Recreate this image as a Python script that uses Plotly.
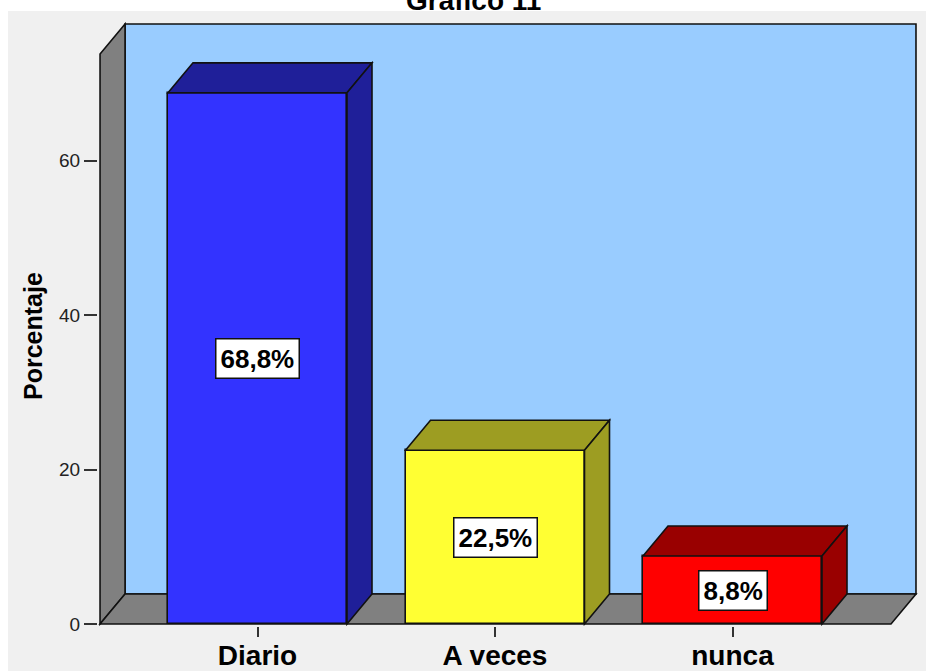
import plotly.graph_objects as go

# Survey answers and their share of respondents (%)
categorias = ["Diario", "A veces", "nunca"]
porcentajes = [68.8, 22.5, 8.8]
y_ticks = [0, 20, 40, 60]

# Face colours: front face, then shaded top/side face
color_frente = ["#3333ff", "#ffff33", "#ff0000"]
color_lado = ["#1f1f99", "#9d9d22", "#990000"]

FONT = "Arial, Liberation Sans, sans-serif"

# Geometry of the pseudo-3D box (in axis units)
px_per_cat = 237.5          # pixels between category centres
px_per_unit = 7.72          # pixels per percentage point
DX = 25 / px_per_cat        # depth offset along x
DY = 30 / px_per_unit       # depth offset along y
BAR_W = 179 / px_per_cat

X_MIN, X_MAX = -0.663, 2.7726   # side wall front edge / back wall right edge
Y_TOP = 77.72                    # top of the back wall

# plot area slightly larger than the box so edge lines are not clipped
x_range = [(98 - 257.5) / px_per_cat, (918 - 257.5) / px_per_cat]
y_range = [-2 / px_per_unit, 602 / px_per_unit]

OUTLINE = dict(color="#111111", width=1.6)


def poly(pts):
    return "M " + " L ".join(f"{x},{y}" for x, y in pts) + " Z"


shapes = []
# white margin strips around the grey panel
shapes.append(dict(type="rect", xref="paper", yref="paper", x0=-0.2, x1=(8 - 98) / 820,
                   y0=-0.2, y1=1.2, fillcolor="white", line=dict(width=0), layer="below"))
shapes.append(dict(type="rect", xref="paper", yref="paper", x0=-0.2, x1=1.2,
                   y0=(626 - 11) / 604, y1=1.2, fillcolor="white", line=dict(width=0), layer="below"))
# back wall
shapes.append(dict(type="path", xref="x", yref="y", layer="below",
                   path=poly([(X_MIN + DX, DY), (X_MAX, DY), (X_MAX, Y_TOP), (X_MIN + DX, Y_TOP)]),
                   fillcolor="#99ccff", line=OUTLINE))
# side wall
shapes.append(dict(type="path", xref="x", yref="y", layer="below",
                   path=poly([(X_MIN, 0), (X_MIN, Y_TOP - DY), (X_MIN + DX, Y_TOP), (X_MIN + DX, DY)]),
                   fillcolor="#808080", line=OUTLINE))
# floor
shapes.append(dict(type="path", xref="x", yref="y", layer="below",
                   path=poly([(X_MIN, 0), (X_MAX - DX, 0), (X_MAX, DY), (X_MIN + DX, DY)]),
                   fillcolor="#808080", line=OUTLINE))

# top and side faces of each bar
for i, v in enumerate(porcentajes):
    x0, x1 = i - BAR_W / 2, i + BAR_W / 2
    shapes.append(dict(type="path", xref="x", yref="y", layer="above",
                       path=poly([(x0, v), (x0 + DX, v + DY), (x1 + DX, v + DY), (x1, v)]),
                       fillcolor=color_lado[i], line=OUTLINE))
    shapes.append(dict(type="path", xref="x", yref="y", layer="above",
                       path=poly([(x1, 0), (x1, v), (x1 + DX, v + DY), (x1 + DX, DY)]),
                       fillcolor=color_lado[i], line=OUTLINE))

fig = go.Figure()
fig.add_trace(go.Bar(
    x=list(range(len(categorias))), y=porcentajes, width=BAR_W,
    marker=dict(color=color_frente, line=OUTLINE),
    hoverinfo="skip", showlegend=False,
))

annotations = []
for i, v in enumerate(porcentajes):
    annotations.append(dict(
        x=i, y=v / 2, xref="x", yref="y", showarrow=False,
        text=f"{v:.1f}%".replace(".", ","),
        font=dict(family=FONT, size=26, color="black", weight="bold"),
        bgcolor="white", bordercolor="#111111", borderwidth=1.5, borderpad=4,
    ))
annotations.append(dict(
    x=(33 - 98) / 820, y=(626 - 336) / 604, xref="paper", yref="paper", showarrow=False,
    text="Porcentaje", textangle=-90, xanchor="center", yanchor="middle",
    font=dict(family=FONT, size=25, color="black", weight="bold"),
))
annotations.append(dict(
    x=(473 - 98) / 820, y=(626 - 18) / 604, xref="paper", yref="paper", showarrow=False,
    text="Gráfico 11", xanchor="center", yanchor="bottom",
    font=dict(family=FONT, size=28, color="black", weight="bold"),
))

fig.update_layout(
    width=926, height=671,
    margin=dict(l=98, r=8, t=22, b=45),
    paper_bgcolor="#f0f0f0", plot_bgcolor="rgba(0,0,0,0)",
    shapes=shapes, annotations=annotations,
    bargap=0,
)
fig.update_xaxes(
    range=x_range, tickmode="array", tickvals=list(range(len(categorias))), ticktext=categorias,
    ticks="outside", ticklen=10, tickwidth=1.5, tickcolor="#333333",
    showgrid=False, zeroline=False, showline=False, automargin=False,
    ticklabelstandoff=-6,
    tickfont=dict(family=FONT, size=28, color="black", weight="bold"),
)
fig.update_yaxes(
    range=y_range, tickmode="array", tickvals=y_ticks, ticktext=[str(t) for t in y_ticks],
    ticks="outside", ticklen=13, tickwidth=1.5, tickcolor="#333333",
    showgrid=False, zeroline=False, showline=False, automargin=False,
    tickfont=dict(family=FONT, size=19, color="#222222"),
)

fig.write_html("out.html")
